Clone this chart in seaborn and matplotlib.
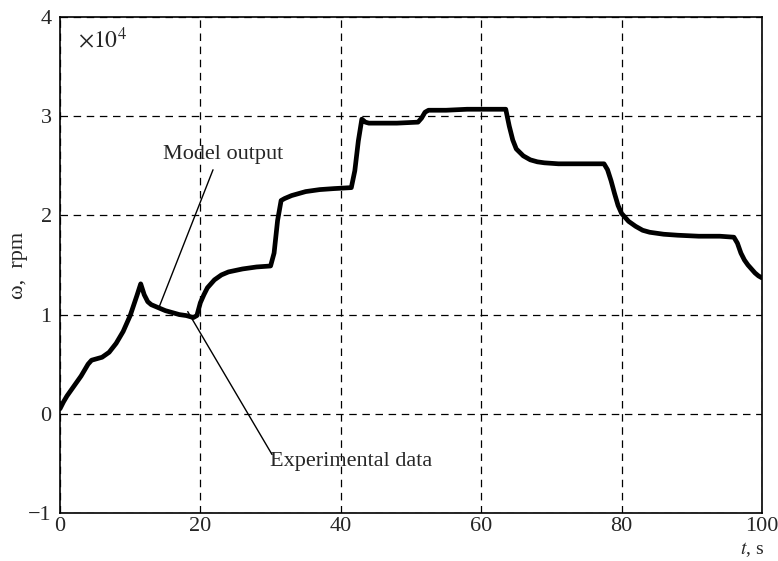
import pandas as pd
import seaborn as sns
import matplotlib.pyplot as plt

# --- data (omega in units of 1e4 rpm) ---
t_s = [0, 0.5, 1, 2, 3, 4, 4.5, 5, 6, 7, 8, 9, 10, 11, 11.5, 12, 12.5, 13, 14, 15,
       16, 17, 18, 19, 19.5, 20, 20.5, 21, 22, 23, 24, 26, 28, 30, 30.5, 31, 31.5,
       32, 33, 35, 37, 39, 41.5, 42, 42.5, 43, 43.5, 44, 46, 48, 51, 51.5, 52, 52.5,
       55, 58, 61, 63.5, 64, 64.5, 65, 66, 67, 68, 69, 71, 74, 77.5, 78, 78.5, 79,
       79.5, 80, 81, 82, 83, 84, 86, 88, 91, 94, 96, 96.5, 97, 97.5, 98, 98.5, 99,
       99.5, 100]
omega = [0.05, 0.12, 0.18, 0.28, 0.38, 0.50, 0.54, 0.55, 0.57, 0.62, 0.71, 0.83,
         0.99, 1.20, 1.31, 1.20, 1.13, 1.10, 1.07, 1.04, 1.02, 1.00, 0.99, 0.97,
         0.99, 1.12, 1.20, 1.27, 1.35, 1.40, 1.43, 1.46, 1.48, 1.49, 1.62, 1.95,
         2.15, 2.17, 2.20, 2.24, 2.26, 2.27, 2.28, 2.45, 2.75, 2.97, 2.94, 2.93,
         2.93, 2.93, 2.94, 2.98, 3.04, 3.06, 3.06, 3.07, 3.07, 3.07, 2.90, 2.76,
         2.67, 2.60, 2.56, 2.54, 2.53, 2.52, 2.52, 2.52, 2.46, 2.35, 2.22, 2.10,
         2.02, 1.94, 1.89, 1.85, 1.83, 1.81, 1.80, 1.79, 1.79, 1.78, 1.72, 1.62,
         1.55, 1.50, 1.46, 1.42, 1.39, 1.37]

x_ticks = [0, 20, 40, 60, 80, 100]
y_ticks = [-1, 0, 1, 2, 3, 4]

df = pd.DataFrame({"t": t_s, "omega": omega})

sns.set_style("white")
plt.rcParams["font.family"] = ["Liberation Serif", "DejaVu Serif"]
plt.rcParams["mathtext.fontset"] = "stix"

fig = plt.figure(figsize=(7.78, 5.61), dpi=100)
ax = fig.add_axes([0.0771, 0.0856, 0.9023, 0.8841])

sns.lineplot(data=df, x="t", y="omega", color="black", linewidth=3.4,
             estimator=None, sort=False, ax=ax)

ax.set_xlim(0, 100)
ax.set_ylim(-1, 4)
ax.set_xticks(x_ticks)
ax.set_yticks(y_ticks)
ax.set_xticklabels([str(v) for v in x_ticks])
ax.set_yticklabels(["\u22121" if v < 0 else str(v) for v in y_ticks])
ax.tick_params(labelsize=16, length=0)
ax.tick_params(axis="x", pad=3)
ax.tick_params(axis="y", pad=6)
ax.grid(True, color="black", linestyle=(0, (6, 4.5)), linewidth=0.9)
for sp in ax.spines.values():
    sp.set_color("black")
    sp.set_linewidth(1.2)

ax.set_xlabel("")
ax.set_ylabel("\u03c9,  rpm", fontsize=16)
ax.yaxis.set_label_coords(-0.045, 0.5)
fig.text(0.982, 0.004, r"$t$, s", ha="right", va="bottom", fontsize=14)
ax.text(2.6, 3.77, r"$\times 10^4$", ha="left", va="center", fontsize=17)

# --- annotations ---
ax.text(14.7, 2.61, "Model output", ha="left", va="center", fontsize=16)
ax.annotate("", xy=(14.2, 1.09), xytext=(21.8, 2.46),
            arrowprops=dict(arrowstyle="-", color="black", lw=1,
                            shrinkA=0, shrinkB=0))
ax.text(29.9, -0.48, "Experimental data", ha="left", va="center", fontsize=16)
ax.annotate("", xy=(18.2, 1.03), xytext=(30.2, -0.41),
            arrowprops=dict(arrowstyle="-", color="black", lw=1,
                            shrinkA=0, shrinkB=0))

fig.savefig("out.png", dpi=100)
